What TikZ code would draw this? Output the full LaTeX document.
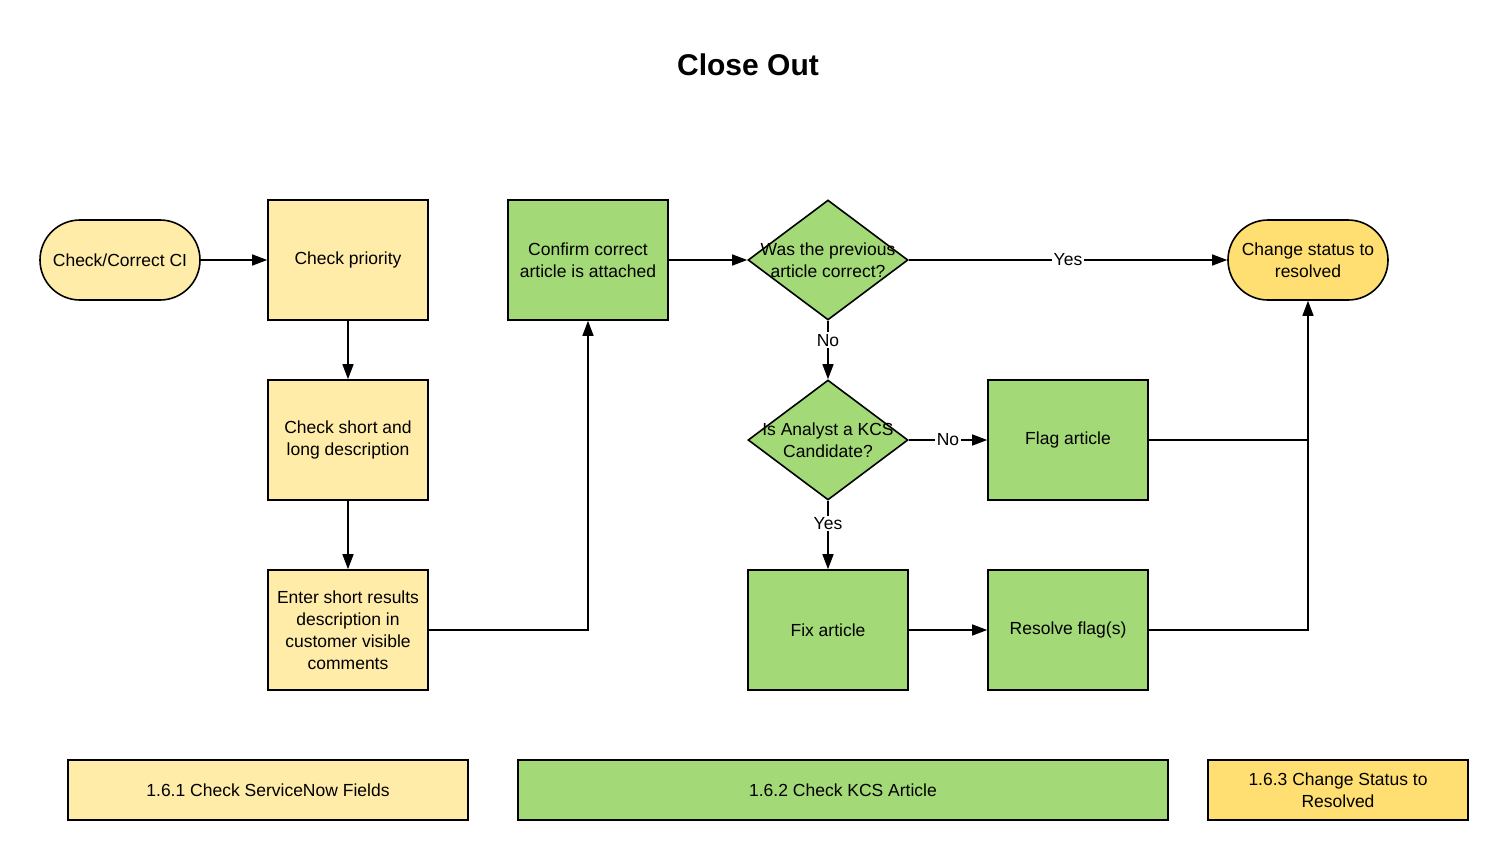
\documentclass[tikz,border=0pt]{standalone}
\usepackage{fontspec}
\setmainfont{Liberation Sans}
\usetikzlibrary{shapes.geometric,arrows.meta}
\definecolor{lyel}{HTML}{FFECA9}
\definecolor{kgreen}{HTML}{A3D977}
\definecolor{oyel}{HTML}{FFDF71}
\tikzset{
  base/.style={draw=black, line width=1.6pt, align=center, inner sep=0pt,
    font=\fontsize{17.5}{22}\selectfont},
  ybox/.style={base, fill=lyel, minimum width=160pt, minimum height=120pt},
  gbox/.style={base, fill=kgreen, minimum width=160pt, minimum height=120pt},
  term/.style={base, rounded corners=40pt, minimum width=160pt, minimum height=80pt},
  dec/.style={draw=black, line width=1.6pt, fill=kgreen, shape=diamond, inner sep=0pt,
    minimum width=160pt, minimum height=120pt},
  dtext/.style={align=center, inner sep=0pt, font=\fontsize{17.5}{22}\selectfont},
  leg/.style={base, minimum height=60pt},
  conn/.style={draw=black, line width=1.4pt, -{Triangle[length=15pt,width=11pt]}},
  lab/.style={fill=white, inner sep=1.5pt, font=\fontsize{17.5}{20}\selectfont},
}
\begin{document}
\begin{tikzpicture}[x=1pt,y=-1pt]
\useasboundingbox (0,0) rectangle (1508,860);
\node[font=\fontsize{30}{36}\selectfont\bfseries] (title) at (748,65) {Close Out};

\node[term, fill=lyel] (ci) at (120,260) {Check/Correct CI};
\node[ybox] (prio) at (348,260) {Check priority};
\node[ybox] (desc) at (348,440) {Check short and\\long description};
\node[ybox] (enter) at (348,630) {Enter short results\\description in\\customer visible\\comments};
\node[gbox] (confirm) at (588,260) {Confirm correct\\article is attached};
\node[dec] (d1) at (828,260) {};
\node[dtext] (d1t) at (828,260) {Was the previous\\article correct?};
\node[dec] (d2) at (828,440) {};
\node[dtext] (d2t) at (828,440) {Is Analyst a KCS\\Candidate?};
\node[gbox] (flag) at (1068,440) {Flag article};
\node[gbox] (fix) at (828,630) {Fix article};
\node[gbox] (resolve) at (1068,630) {Resolve flag(s)};
\node[term, fill=oyel] (status) at (1308,260) {Change status to\\resolved};

\coordinate (j1) at (588,630);
\coordinate (j2) at (1308,440);
\coordinate (j3) at (1308,630);

\draw[conn] (ci) -- (prio);
\draw[conn] (prio) -- (desc);
\draw[conn] (desc) -- (enter);
\draw[conn] (enter.east) -- (j1) -- (confirm.south);
\draw[conn] (confirm) -- (d1);
\draw[conn] (d1.east) -- node[lab, pos=0.5] {Yes} (status.west);
\draw[conn] (d1.south) -- node[lab, pos=0.33] {No} (d2.north);
\draw[conn] (d2.east) -- node[lab, pos=0.5] {No} (flag.west);
\draw[conn] (d2.south) -- node[lab, pos=0.33] {Yes} (fix.north);
\draw[conn] (fix) -- (resolve);
\draw[line width=1.4pt] (flag.east) -- (j2);
\draw[conn] (resolve.east) -- (j3) -- (status.south);

\node[leg, fill=lyel, minimum width=400pt] (l1) at (268,790) {1.6.1 Check ServiceNow Fields};
\node[leg, fill=kgreen, minimum width=650pt] (l2) at (843,790) {1.6.2 Check KCS Article};
\node[leg, fill=oyel, minimum width=260pt] (l3) at (1338,790) {1.6.3 Change Status to\\Resolved};
\end{tikzpicture}
\end{document}
